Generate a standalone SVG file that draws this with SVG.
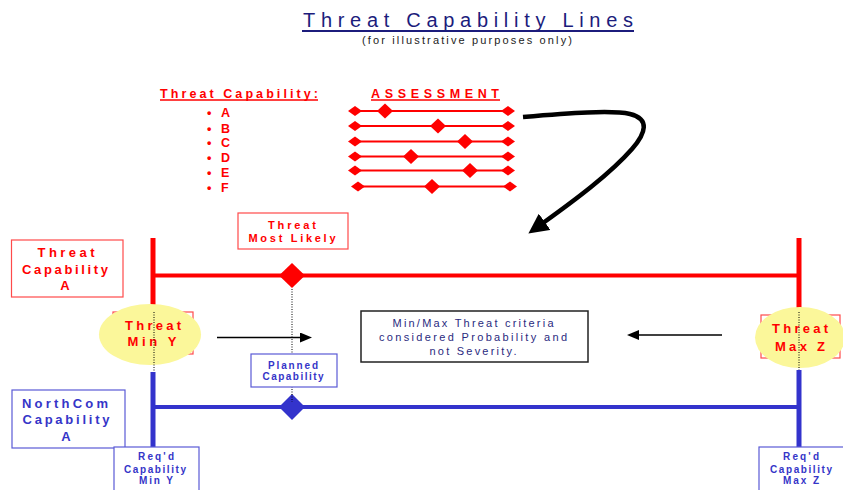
<svg xmlns="http://www.w3.org/2000/svg" xmlns:xlink="http://www.w3.org/1999/xlink" width="843" height="490" viewBox="0 0 843 490">
  <style>
    text { font-family: "Liberation Sans", Arial, sans-serif; }
    .title { fill: #1c1c7c; font-size: 20px; }
    .sub { fill: #222; font-size: 11px; }
    .r { fill: #ff0000; font-weight: bold; }
    .b { fill: #3535c8; font-weight: bold; }
    .n { fill: #2a2a80; font-size: 11px; }
    .rbox { fill: #ffffff; stroke: #ff4a4a; stroke-width: 1.2; }
    .bbox { fill: #ffffff; stroke: #5a5ad6; stroke-width: 1.2; }
    .rline { stroke: #ff0000; fill: none; }
    .bline { stroke: #3333cc; fill: none; }
    .dot { stroke: #000; stroke-width: 1; stroke-dasharray: 1 1.5; fill: none; }
    .ell { fill: #fbf79a; stroke: none; }
    .arr { stroke: #000; stroke-width: 1.3; fill: none; }
  </style>
  <defs>
    <path id="endD" d="M-7,0 L0,-5 L7,0 L0,5 Z" fill="#ff0000"/>
    <path id="midD" d="M-8,0 L0,-7.5 L8,0 L0,7.5 Z" fill="#ff0000"/>
    <marker id="headS" markerUnits="userSpaceOnUse" markerWidth="12" markerHeight="10" refX="1" refY="5" orient="auto">
      <path d="M0,0 L12,5 L0,10 Z" fill="#000"/>
    </marker>
    <marker id="headL" markerUnits="userSpaceOnUse" markerWidth="20" markerHeight="20" refX="2" refY="10" orient="auto">
      <path d="M0,0 L20,10 L0,20 Z" fill="#000"/>
    </marker>
  </defs>

  <g id="title">
    <text class="title" x="468" y="27" text-anchor="middle" textLength="330" lengthAdjust="spacing">Threat Capability Lines</text>
    <line x1="302" y1="31" x2="634" y2="31" stroke="#1c1c7c" stroke-width="2"/>
    <text class="sub" x="467" y="44" text-anchor="middle" textLength="210" lengthAdjust="spacing">(for illustrative purposes only)</text>
  </g>

  <g id="threat-capability-list">
    <text class="r" x="239" y="98" font-size="12.5" text-anchor="middle" textLength="158" lengthAdjust="spacing">Threat Capability:</text>
    <line x1="160" y1="100" x2="318" y2="100" stroke="#ff0000" stroke-width="1.5"/>
    <g class="r" font-size="12.5">
      <text x="207" y="117">•</text><text x="221" y="117">A</text>
      <text x="207" y="132.5">•</text><text x="221" y="132.5">B</text>
      <text x="207" y="147">•</text><text x="221" y="147">C</text>
      <text x="207" y="162">•</text><text x="221" y="162">D</text>
      <text x="207" y="176.5">•</text><text x="221" y="176.5">E</text>
      <text x="207" y="191.5">•</text><text x="221" y="191.5">F</text>
    </g>
  </g>

  <g id="assessment">
    <text class="r" x="435" y="98" font-size="12.5" text-anchor="middle" textLength="128" lengthAdjust="spacing">ASSESSMENT</text>
    <line x1="371" y1="100" x2="500" y2="100" stroke="#ff0000" stroke-width="1.5"/>
    <g class="rline" stroke-width="2">
      <line x1="355" y1="111" x2="508" y2="111"/>
      <line x1="355" y1="126" x2="508" y2="126"/>
      <line x1="355" y1="141.5" x2="508" y2="141.5"/>
      <line x1="355" y1="156.5" x2="508" y2="156.5"/>
      <line x1="355" y1="170.5" x2="508" y2="170.5"/>
      <line x1="358" y1="186.5" x2="510" y2="186.5"/>
    </g>
    <use xlink:href="#endD" x="355" y="111"/><use xlink:href="#endD" x="508" y="111"/><use xlink:href="#midD" x="385" y="111"/>
    <use xlink:href="#endD" x="355" y="126"/><use xlink:href="#endD" x="508" y="126"/><use xlink:href="#midD" x="438" y="126"/>
    <use xlink:href="#endD" x="355" y="141.5"/><use xlink:href="#endD" x="508" y="141.5"/><use xlink:href="#midD" x="465" y="141.5"/>
    <use xlink:href="#endD" x="355" y="156.5"/><use xlink:href="#endD" x="508" y="156.5"/><use xlink:href="#midD" x="411" y="156.5"/>
    <use xlink:href="#endD" x="355" y="170.5"/><use xlink:href="#endD" x="508" y="170.5"/><use xlink:href="#midD" x="470" y="170.5"/>
    <use xlink:href="#endD" x="358" y="186.5"/><use xlink:href="#endD" x="510" y="186.5"/><use xlink:href="#midD" x="432" y="186.5"/>
  </g>

  <g id="threat-line">
    <line class="rline" x1="153" y1="238" x2="153" y2="310" stroke-width="5"/>
    <line class="rline" x1="799" y1="238" x2="799" y2="310" stroke-width="5"/>
    <line class="rline" x1="153" y1="275.5" x2="799" y2="275.5" stroke-width="4"/>
    <path d="M279,275.5 L292,263 L305,275.5 L292,288 Z" fill="#ff0000"/>
  </g>

  <g id="northcom-line">
    <line class="bline" x1="153" y1="372" x2="153" y2="448" stroke-width="5"/>
    <line class="bline" x1="799" y1="370" x2="799" y2="448" stroke-width="5"/>
    <line class="bline" x1="153" y1="407" x2="799" y2="407" stroke-width="4"/>
    <path d="M279,407 L292,394 L305,407 L292,420 Z" fill="#3333cc"/>
  </g>

  <g id="connectors">
    <path d="M523,117 C570,113 612,110 630,114 C650,119 646,133 632,149 C610,174 575,200 543,223" stroke="#000" stroke-width="4.5" fill="none" marker-end="url(#headL)"/>
    <line class="arr" x1="217" y1="337.5" x2="301" y2="337.5" marker-end="url(#headS)"/>
    <line class="arr" x1="722" y1="335" x2="638" y2="335" marker-end="url(#headS)"/>
    <line class="dot" x1="292" y1="289" x2="292" y2="402"/>
  </g>

  <g id="threat-most-likely">
    <rect class="rbox" x="238" y="213" width="110" height="36"/>
    <text class="r" x="292" y="229" font-size="11" text-anchor="middle" textLength="48" lengthAdjust="spacing">Threat</text>
    <text class="r" x="292" y="242" font-size="11" text-anchor="middle" textLength="87" lengthAdjust="spacing">Most Likely</text>
  </g>

  <g id="threat-capability-a">
    <rect class="rbox" x="11.5" y="240" width="111.5" height="57"/>
    <text class="r" x="66" y="257" font-size="13" text-anchor="middle" textLength="57" lengthAdjust="spacing">Threat</text>
    <text class="r" x="65" y="274" font-size="13" text-anchor="middle" textLength="86" lengthAdjust="spacing">Capability</text>
    <text class="r" x="65" y="290" font-size="13" text-anchor="middle">A</text>
  </g>

  <g id="threat-min-y">
    <rect class="rbox" x="113" y="312" width="80" height="42"/>
    <ellipse class="ell" cx="150" cy="334.5" rx="51" ry="30.5"/>
    <text class="r" x="153" y="330" font-size="13" text-anchor="middle" textLength="56" lengthAdjust="spacing">Threat</text>
    <text class="r" x="152" y="346" font-size="13" text-anchor="middle" textLength="49" lengthAdjust="spacing">Min Y</text>
    <line class="dot" x1="154" y1="312" x2="154" y2="371"/>
  </g>

  <g id="threat-max-z">
    <rect class="rbox" x="761" y="315" width="79" height="43"/>
    <ellipse class="ell" cx="800" cy="337.5" rx="45" ry="30.5"/>
    <text class="r" x="800" y="333" font-size="13" text-anchor="middle" textLength="56" lengthAdjust="spacing">Threat</text>
    <text class="r" x="800" y="351" font-size="13" text-anchor="middle" textLength="50" lengthAdjust="spacing">Max Z</text>
    <line class="dot" x1="799" y1="312" x2="799" y2="370"/>
  </g>

  <g id="minmax-note">
    <rect x="361" y="311" width="227" height="51" fill="#ffffff" stroke="#222" stroke-width="1.5"/>
    <text class="n" x="473" y="327" text-anchor="middle" textLength="161" lengthAdjust="spacing">Min/Max Threat criteria</text>
    <text class="n" x="473" y="340.5" text-anchor="middle" textLength="188" lengthAdjust="spacing">considered Probability and</text>
    <text class="n" x="473" y="355" text-anchor="middle" textLength="87" lengthAdjust="spacing">not Severity.</text>
  </g>

  <g id="planned-capability">
    <rect class="bbox" x="251" y="354" width="86" height="33"/>
    <text class="b" x="293" y="368.5" font-size="10" text-anchor="middle" textLength="50" lengthAdjust="spacing">Planned</text>
    <text class="b" x="293" y="379.5" font-size="10" text-anchor="middle" textLength="61" lengthAdjust="spacing">Capability</text>
  </g>

  <g id="northcom-capability-a">
    <rect class="bbox" x="12" y="390" width="113" height="58"/>
    <text class="b" x="65" y="408" font-size="13" text-anchor="middle" textLength="86" lengthAdjust="spacing">NorthCom</text>
    <text class="b" x="66" y="424" font-size="13" text-anchor="middle" textLength="87" lengthAdjust="spacing">Capability</text>
    <text class="b" x="66" y="441" font-size="13" text-anchor="middle">A</text>
  </g>

  <g id="reqd-min-y">
    <rect class="bbox" x="114" y="447" width="85" height="50"/>
    <text class="b" x="156" y="460" font-size="10" text-anchor="middle" textLength="36" lengthAdjust="spacing">Req'd</text>
    <text class="b" x="155" y="472.5" font-size="10" text-anchor="middle" textLength="62" lengthAdjust="spacing">Capability</text>
    <text class="b" x="156" y="484" font-size="10" text-anchor="middle" textLength="34" lengthAdjust="spacing">Min Y</text>
  </g>

  <g id="reqd-max-z">
    <rect class="bbox" x="759" y="447" width="90" height="50"/>
    <text class="b" x="801" y="460" font-size="10" text-anchor="middle" textLength="36" lengthAdjust="spacing">Req'd</text>
    <text class="b" x="801" y="472.5" font-size="10" text-anchor="middle" textLength="62" lengthAdjust="spacing">Capability</text>
    <text class="b" x="801" y="484" font-size="10" text-anchor="middle" textLength="36" lengthAdjust="spacing">Max Z</text>
  </g>
</svg>
